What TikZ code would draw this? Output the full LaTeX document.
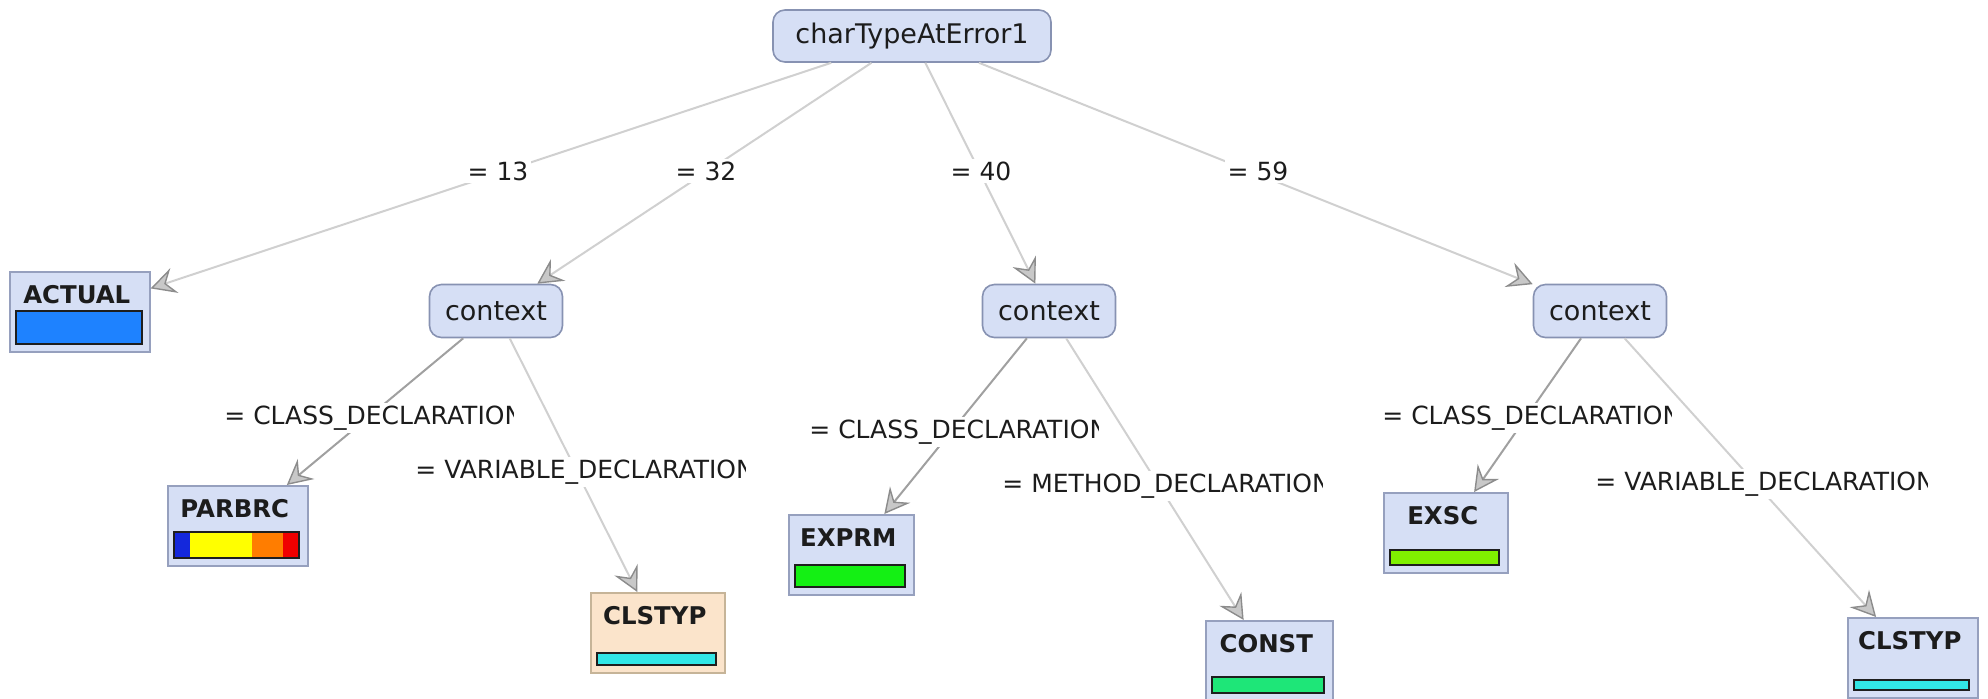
\documentclass[tikz,border=0pt]{standalone}
\usepackage{fontspec}
\setmainfont{DejaVu Sans}
\usetikzlibrary{arrows.meta}

\definecolor{nodefill}{RGB}{214,223,245}
\definecolor{nodeline}{RGB}{135,146,178}
\definecolor{leafline}{RGB}{150,160,190}
\definecolor{peach}{RGB}{251,228,203}
\definecolor{peachline}{RGB}{198,180,152}
\definecolor{edgelight}{RGB}{208,208,208}
\definecolor{edgedark}{RGB}{160,160,160}
\definecolor{arrowfill}{RGB}{200,200,200}
\definecolor{arrowline}{RGB}{140,140,140}
\definecolor{textcol}{RGB}{28,28,28}
\definecolor{barline}{RGB}{30,30,30}
\definecolor{azure}{RGB}{30,130,255}
\definecolor{pbblue}{RGB}{20,40,220}
\definecolor{pbyellow}{RGB}{255,255,0}
\definecolor{pborange}{RGB}{255,125,0}
\definecolor{pbred}{RGB}{240,0,0}
\definecolor{turq}{RGB}{50,230,230}
\definecolor{lime}{RGB}{20,240,20}
\definecolor{spring}{RGB}{30,230,120}
\definecolor{chart}{RGB}{128,240,0}

% leaf box: name, left x, top y, width, title, extra style
\newcommand\leafnode[6]{%
  \node[leafnode, #6, anchor=north west, minimum width=#4*0.5pt] (#1) at (#2,#3) {};
  \node[leaftitle] (#1-t) at ([xshift=-1.5pt,yshift=-16pt]#1.north) {#5};
}

\begin{document}
\begin{tikzpicture}[x=0.5pt, y=-0.5pt,
  innernode/.style={draw=nodeline, fill=nodefill, line width=0.8pt, rounded corners=6pt,
    font=\fontsize{13.5}{16}\selectfont, text=textcol, inner sep=0pt},
  leafnode/.style={draw=leafline, fill=nodefill, line width=0.8pt, minimum height=40pt, inner sep=0pt},
  peachleaf/.style={draw=peachline, fill=peach},
  leaftitle/.style={font=\bfseries\fontsize{12.2}{14}\selectfont, text=textcol, anchor=base, inner sep=0pt},
  barbox/.style={draw=barline, line width=0.9pt},
  conn/.style={draw=edgelight, line width=1pt,
    -{Stealth[length=12.5pt, width=13pt, inset=4.5pt, fill=arrowfill, color=arrowline, line width=0.7pt]}},
  conndark/.style={conn, draw=edgedark},
  elabel/.style={fill=white, inner sep=1.5pt, font=\fontsize{12.5}{15}\selectfont, text=textcol}
]
\clip (0,0) rectangle (1988,698);

% decision nodes
\node[innernode, minimum width=139pt, minimum height=26pt] (root) at (912,36) {charTypeAtError1};
\node[innernode, minimum width=66.5pt, minimum height=26.5pt] (ctxA) at (496,311) {context};
\node[innernode, minimum width=66.5pt, minimum height=26.5pt] (ctxB) at (1049,311) {context};
\node[innernode, minimum width=66.5pt, minimum height=26.5pt] (ctxC) at (1600,311) {context};

% leaves
\leafnode{actual}{9}{271}{140}{ACTUAL}{}
\leafnode{parbrc}{167}{485}{140}{PARBRC}{}
\leafnode{clstypA}{590}{592}{134}{CLSTYP}{peachleaf}
\leafnode{exprm}{788}{514}{125}{EXPRM}{}
\leafnode{cnst}{1205}{620}{127}{CONST}{}
\leafnode{exsc}{1383}{492}{124}{EXSC}{}
\leafnode{clstypB}{1847}{617}{130}{CLSTYP}{}

% class distribution bars
\draw[barbox, fill=azure] (16,311) rectangle (142,344);
\fill[pbblue] (174,532) rectangle (190,558);
\fill[pbyellow] (190,532) rectangle (252,558);
\fill[pborange] (252,532) rectangle (283,558);
\fill[pbred] (283,532) rectangle (299,558);
\draw[barbox] (174,532) rectangle (299,558);
\draw[barbox, fill=turq] (597,653) rectangle (716,665);
\draw[barbox, fill=lime] (795,565) rectangle (905,587);
\draw[barbox, fill=spring] (1212,677) rectangle (1324,693);
\draw[barbox, fill=chart] (1390,550) rectangle (1499,565);
\draw[barbox, fill=turq] (1854,680) rectangle (1969,690);

% connectors
\draw[conn] (root) -- (actual);
\draw[conn] (root) -- (ctxA);
\draw[conn] (root) -- (ctxB);
\draw[conn] (root) -- (ctxC);
\draw[conndark] (ctxA) -- (parbrc);
\draw[conn] (ctxA) -- (clstypA);
\draw[conndark] (ctxB) -- (exprm);
\draw[conn] (ctxB) -- (cnst);
\draw[conndark] (ctxC) -- (exsc);
\draw[conn] (ctxC) -- (clstypB);

% branch labels
\node[elabel] (l13) at (498,171) {= 13};
\node[elabel] (l32) at (706,171) {= 32};
\node[elabel] (l40) at (981,171) {= 40};
\node[elabel] (l59) at (1258,171) {= 59};

\begin{scope}
  \clip (215,398) rectangle (513,438);
  \node[elabel, anchor=west] (lA1) at (221,418) {= CLASS\_DECLARATION};
\end{scope}
\begin{scope}
  \clip (406,452) rectangle (745,492);
  \node[elabel, anchor=west] (lA2) at (412,472) {= VARIABLE\_DECLARATION};
\end{scope}
\begin{scope}
  \clip (800,412) rectangle (1098,452);
  \node[elabel, anchor=west] (lB1) at (806,432) {= CLASS\_DECLARATION};
\end{scope}
\begin{scope}
  \clip (993,466) rectangle (1322,506);
  \node[elabel, anchor=west] (lB2) at (999,486) {= METHOD\_DECLARATION};
\end{scope}
\begin{scope}
  \clip (1373,398) rectangle (1671,438);
  \node[elabel, anchor=west] (lC1) at (1379,418) {= CLASS\_DECLARATION};
\end{scope}
\begin{scope}
  \clip (1586,464) rectangle (1927,504);
  \node[elabel, anchor=west] (lC2) at (1592,484) {= VARIABLE\_DECLARATION};
\end{scope}
\end{tikzpicture}
\end{document}
